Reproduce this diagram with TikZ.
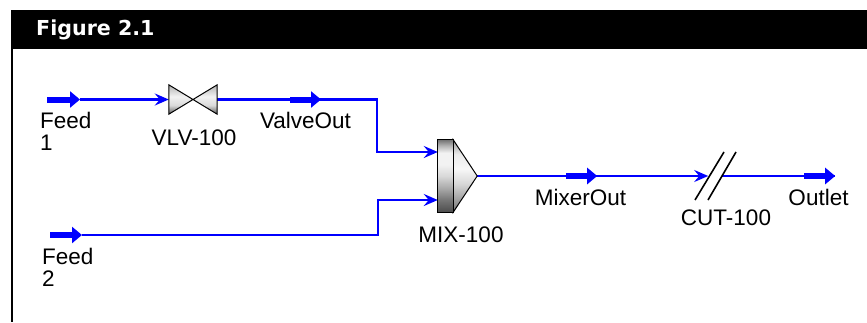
\documentclass[tikz,border=0pt]{standalone}
\usepackage{fontspec}
\setmainfont{Liberation Sans}
\newfontfamily\titlefont{DejaVu Sans}
\usetikzlibrary{positioning,arrows.meta}

\pgfdeclareverticalshading{mixgrey}{100bp}{color(0bp)=(black!70); color(25bp)=(black!70); color(33bp)=(black!55); color(41bp)=(black!35); color(50bp)=(black!15); color(58bp)=(black!5); color(66bp)=(black!5); color(71bp)=(black!30); color(75bp)=(black!55); color(100bp)=(black!55)}
\pgfdeclareverticalshading{conegrey}{100bp}{color(0bp)=(black!55); color(25bp)=(black!55); color(35bp)=(black!35); color(45bp)=(black!15); color(55bp)=(black!3); color(65bp)=(black!8); color(75bp)=(black!40); color(100bp)=(black!40)}
\pgfdeclareverticalshading{vlvgrey}{100bp}{color(0bp)=(black!65); color(25bp)=(black!65); color(40bp)=(black!15); color(55bp)=(black!5); color(75bp)=(black!30); color(100bp)=(black!30)}

\tikzset{
  stream/.style={draw=blue,line width=2.3pt},
  feedin/.style={stream,-{Stealth[length=14pt,width=12pt,inset=5pt]}},
  marker/.style={draw=blue,line width=6pt,-{Triangle[length=10pt,width=16pt]}},
  tag/.style={font=\fontsize{22.5}{22}\selectfont,inner sep=0pt,align=left},
  unit/.style={draw=black,line width=1pt},
  cutline/.style={draw=black,line width=1.6pt}
}

\begin{document}
\begin{tikzpicture}[x=1pt,y=-1pt,on grid,every node/.style={inner sep=0pt}]
  \useasboundingbox (0,0) rectangle (867,322);
  \node[fill=black,minimum width=856pt,minimum height=39pt] (bar) at (439,29.5) {};
  \node[text=white,font=\titlefont\bfseries\fontsize{20.6}{24}\selectfont,anchor=west] (title) at (36,29.5) {Figure 2.1};
  \coordinate (barfoot) at (12,322);
  \draw[line width=2pt] (bar.south west -| barfoot) -- (barfoot);

  % valve line
  \coordinate (feed1) at (47,99.5);
  \coordinate[right=33pt of feed1] (feed1tip);
  \node[minimum width=48pt,minimum height=29pt,right=146pt of feed1,anchor=center] (vlv) {};
  \coordinate[right=128pt of vlv.center] (valveouttip);
  \coordinate[left=31pt of valveouttip] (valveout);
  \coordinate[right=56pt of valveouttip] (valvebend);

  % mixer
  \node[minimum width=15pt,minimum height=72pt] (mix) at (445.5,176) {};
  \coordinate[right=24pt of mix.east] (mixtip);
  \coordinate[above=24pt of mix.west] (mixin1);
  \coordinate[below=24pt of mix.west] (mixin2);
  \coordinate (feed2) at (50,235);
  \coordinate[right=32pt of feed2] (feed2tip);
  \coordinate (feedbend) at (378,235);

  % outlet line
  \coordinate[right=120pt of mixtip] (mixerouttip);
  \coordinate[left=31pt of mixerouttip] (mixerout);
  \coordinate[right=111pt of mixerouttip] (cutin);
  \coordinate[right=14pt of cutin] (cutout);
  \coordinate[right=113pt of cutout] (outlettip);
  \coordinate[left=31pt of outlettip] (outlet);

  \draw[feedin] (feed1tip) -- (vlv.west);
  \draw[stream] (vlv.east) -- (valveouttip);
  \draw[feedin] (valveouttip) -- (valvebend) |- (mixin1);
  \draw[feedin] (feed2tip) -- (feedbend) |- (mixin2);
  \draw[stream] (mixtip) -- (mixerouttip);
  \draw[feedin] (mixerouttip) -- (cutin);
  \draw[stream] (cutout) -- (outlettip);
  \foreach \from/\to in {feed1/feed1tip,valveout/valveouttip,feed2/feed2tip,mixerout/mixerouttip,outlet/outlettip}
    \draw[marker] (\from) -- (\to);

  \path[unit,shading=vlvgrey] (vlv.north west) -- (vlv.south east) -- (vlv.north east) -- (vlv.south west) -- cycle;
  \path[unit,shading=conegrey] (mix.north east) -- (mixtip) -- (mix.south east) -- cycle;
  \path[unit,shading=mixgrey] (mix.north west) rectangle (mix.south east);

  \coordinate (cut1a) at (695,200);
  \coordinate (cut1b) at (724,152);
  \coordinate (cut2a) at (708,200);
  \coordinate (cut2b) at (736,152);
  \draw[cutline] (cut1a) -- (cut1b);
  \draw[cutline] (cut2a) -- (cut2b);

  \node[tag,anchor=west] (feed1name) at (40,131) {Feed\\1};
  \node[tag,below=38.5pt of vlv.center,anchor=center,xshift=1pt] (vlvname) {VLV-100};
  \node[tag] (valveoutname) at (305.5,120) {ValveOut};
  \node[tag] (mixname) at (461,235) {MIX-100};
  \node[tag] (mixeroutname) at (580.5,197) {MixerOut};
  \node[tag] (cutname) at (726,218) {CUT-100};
  \node[tag] (outletname) at (818.5,197) {Outlet};
  \node[tag,anchor=west] (feed2name) at (42,267) {Feed\\2};
\end{tikzpicture}
\end{document}
